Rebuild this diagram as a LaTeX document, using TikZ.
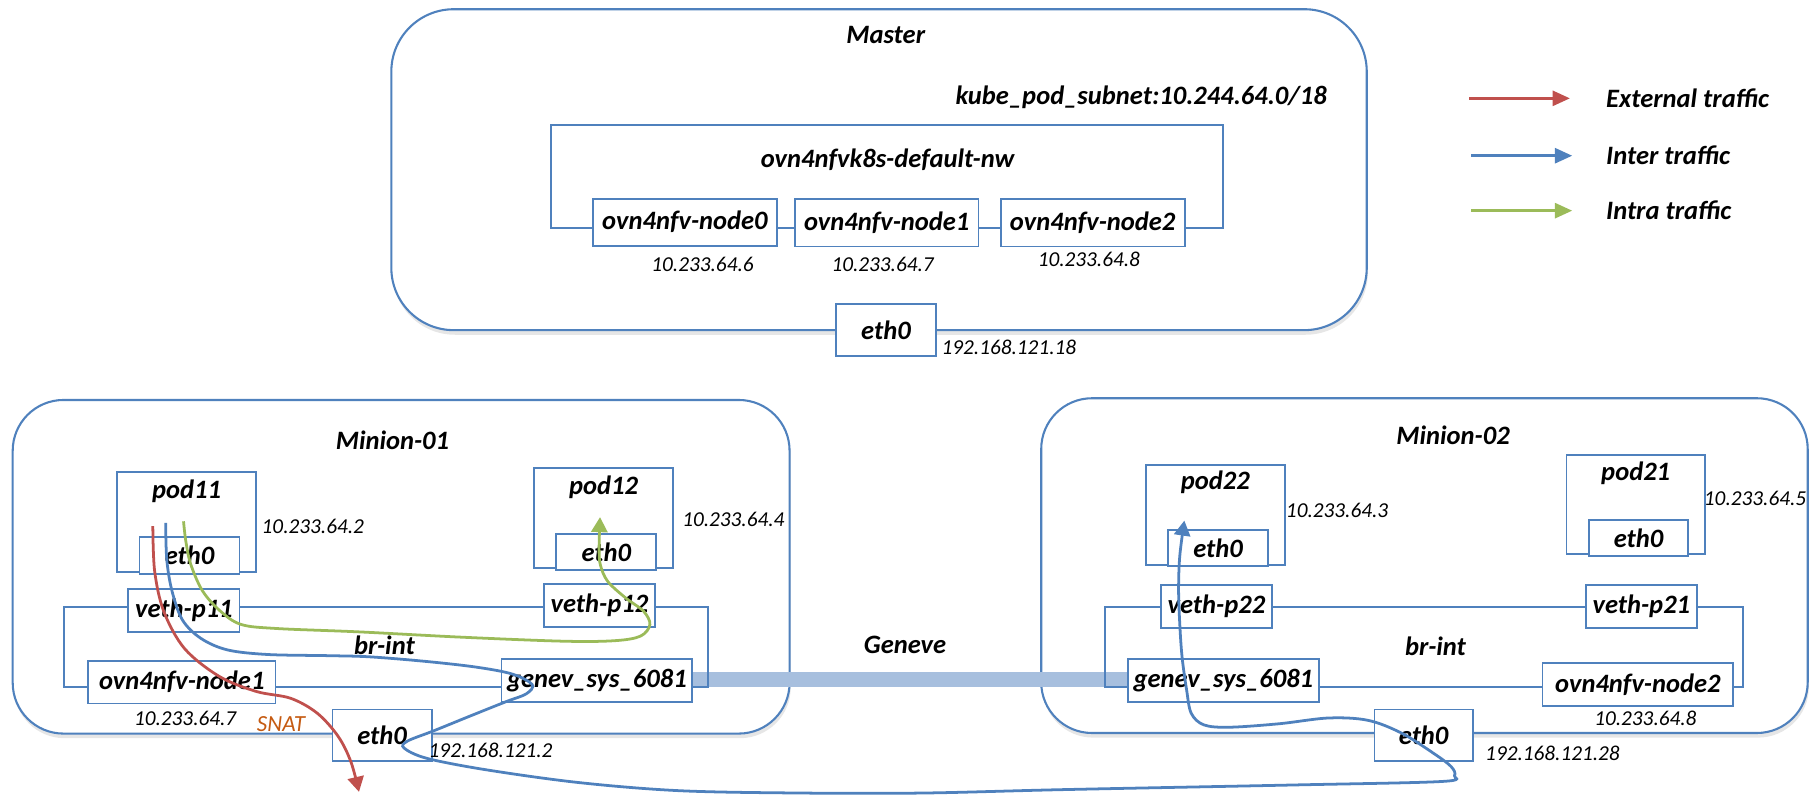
\documentclass[tikz,border=0pt]{standalone}
\usepackage{fontspec}
\setmainfont{Carlito}
\usetikzlibrary{arrows.meta,shadows}
\definecolor{boxblue}{HTML}{4F81BD}
\definecolor{extred}{HTML}{C0504D}
\definecolor{intragreen}{HTML}{9BBB59}
\definecolor{bandblue}{HTML}{A7BFDE}
\definecolor{snatbrown}{HTML}{C55A11}

\begin{document}
\begin{tikzpicture}[x=0.5pt, y=-0.5pt,
	host/.style={draw=boxblue, line width=0.9pt, fill=white, rounded corners=22pt, drop shadow={shadow xshift=0.5pt, shadow yshift=-2pt, opacity=0.2}},
	box/.style={draw=boxblue, line width=0.8pt, fill=white, inner sep=0pt, font=\bfseries\itshape},
	wire/.style={draw=boxblue, line width=0.8pt},
	lbl/.style={font=\bfseries\itshape, inner sep=0pt},
	ip/.style={font=\fontsize{9.2}{11}\selectfont\itshape, inner sep=0pt},
	flow/.style={line width=1.2pt, -{Triangle[length=6.5pt, width=7pt]}},
	legend/.style={line width=1.2pt, -{Triangle[length=7.5pt, width=6.5pt]}}]
	\fontsize{11.5}{14}\selectfont
	\useasboundingbox (0,0) rectangle (1568,688);
	
	% containers
	\node[host, rounded corners=27pt, minimum width=422.5pt, minimum height=139pt] (master) at (761.5,147) {};
	\node[host, minimum width=336.5pt, minimum height=144.5pt] (minion1) at (347.5,491) {};
	\node[host, minimum width=332pt, minimum height=145pt] (minion2) at (1234,490) {};
	\node[lbl] (mastername) at (767.3,30.6) {Master};
	\node[lbl] (m1name) at (340,381) {Minion-01};
	\node[lbl] (m2name) at (1258.8,376.8) {Minion-02};
	
	% master
	\node[lbl] (subnet) at (988.6,84.6) {kube\_pod\_subnet:10.244.64.0/18};
	\node[lbl] (nwname) at (768.9,138.6) {ovn4nfvk8s-default-nw};
	\node[box, minimum width=80pt, minimum height=20.4pt] (mnode0) at (593.4,192.5) {ovn4nfv-node0};
	\node[box, minimum width=79.4pt, minimum height=20.4pt] (mnode1) at (768.2,193.1) {ovn4nfv-node1};
	\node[box, minimum width=79.6pt, minimum height=20.4pt] (mnode2) at (946.6,193.1) {ovn4nfv-node2};
	\draw[wire] (mnode0.west |- 0,197.8) -- (477,197.8) |- (1059.5,108.5) -- (1059.5,197.8) -- (mnode2.east |- 0,197.8);
	\draw[wire] (mnode0.east |- 0,197.8) -- (mnode1.west |- 0,197.8);
	\draw[wire] (mnode1.east |- 0,197.8) -- (mnode2.west |- 0,197.8);
	\node[ip] (mip0) at (608.6,229) {10.233.64.6};
	\node[ip] (mip1) at (764.6,229) {10.233.64.7};
	\node[ip] (mip2) at (943.3,225) {10.233.64.8};
	\node[box, minimum width=43pt, minimum height=22.5pt] (meth0) at (767.5,286) {eth0};
	\node[ip] (methip) at (874,300.5) {192.168.121.18};
	
	% geneve tunnel
	\node[lbl] (geneve) at (784,558.8) {Geneve};
	\draw[bandblue, line width=6.5pt] (599.7,588.5) -- (977.2,588.5);
	
	% minion-01
	\node[box, minimum width=60.4pt, minimum height=43.3pt] (pod11) at (161.7,452) {};
	\node[lbl] (pod11name) at ([yshift=-8.7pt]pod11.north) {pod11};
	\node[box, minimum width=43.3pt, minimum height=16pt] (pod11eth) at (164.2,481) {eth0};
	\node[ip] (pod11ip) at (271,455.7) {10.233.64.2};
	\node[box, minimum width=60pt, minimum height=43.3pt] (pod12) at (522.9,449) {};
	\node[lbl] (pod12name) at ([yshift=-8.6pt]pod12.north) {pod12};
	\node[box, minimum width=43.3pt, minimum height=15.9pt] (pod12eth) at (525.3,478.2) {eth0};
	\node[ip] (pod12ip) at (635.3,450.2) {10.233.64.4};
	\node[box, minimum width=48.2pt, minimum height=18.3pt] (vp11) at (159.3,528.9) {veth-p11};
	\node[box, minimum width=48.4pt, minimum height=18.5pt] (vp12) at (519.3,524.4) {veth-p12};
	\node[box, minimum width=81.1pt, minimum height=18.5pt] (onode1) at (157.5,590.9) {ovn4nfv-node1};
	\node[box, minimum width=82.6pt, minimum height=18.4pt] (gen1) at (517.1,589.6) {genev\_sys\_6081};
	\draw[wire] (vp11.west |- 0,525.6) -- (55.5,525.6) -- (55.5,594.9) -- (onode1.west |- 0,594.9);
	\draw[wire] (vp11.east |- 0,525.6) -- (vp12.west |- 0,525.6);
	\draw[wire] (vp12.east |- 0,525.6) -- (613,525.6) -- (613,594.9) -- (gen1.east |- 0,594.9);
	\draw[wire] (onode1.east |- 0,594.9) -- (gen1.west |- 0,594.9);
	\node[lbl] (brint1) at (333,559) {br-int};
	\node[ip] (onode1ip) at (160.4,622.3) {10.233.64.7};
	\node[font=\fontsize{10}{12}\selectfont\itshape, text=snatbrown, inner sep=0pt] (snat) at (243.4,627) {SNAT};
	\node[box, minimum width=43pt, minimum height=22.2pt] (eth1) at (331,636.8) {eth0};
	\node[ip] (eth1ip) at (425,649.7) {192.168.121.2};
	
	% minion-02
	\node[box, minimum width=60.2pt, minimum height=43.3pt] (pod22) at (1052.9,446.1) {};
	\node[lbl] (pod22name) at ([yshift=-8pt]pod22.north) {pod22};
	\node[box, minimum width=43.1pt, minimum height=15.6pt] (pod22eth) at (1055.2,474.7) {eth0};
	\node[ip] (pod22ip) at (1158.3,442.4) {10.233.64.3};
	\node[box, minimum width=60pt, minimum height=43pt] (pod21) at (1417,437.2) {};
	\node[lbl] (pod21name) at ([yshift=-8.2pt]pod21.north) {pod21};
	\node[box, minimum width=43.1pt, minimum height=15.7pt] (pod21eth) at (1419.5,466.2) {eth0};
	\node[ip] (pod21ip) at (1520.4,431.7) {10.233.64.5};
	\node[box, minimum width=48pt, minimum height=18.5pt] (vp22) at (1053.8,525.3) {veth-p22};
	\node[box, minimum width=48pt, minimum height=18.5pt] (vp21) at (1421.9,525.3) {veth-p21};
	\node[box, minimum width=82.6pt, minimum height=18.6pt] (gen2) at (1059.8,589.8) {genev\_sys\_6081};
	\node[box, minimum width=82.6pt, minimum height=18.3pt] (onode2) at (1418.9,593) {ovn4nfv-node2};
	\draw[wire] (gen2.west |- 0,594.9) -- (956.9,594.9) -- (956.9,525.6) -- (vp22.west |- 0,525.6);
	\draw[wire] (vp22.east |- 0,525.6) -- (vp21.west |- 0,525.6);
	\draw[wire] (vp21.east |- 0,525.6) -- (1510,525.6) -- (1510,594.9) -- (onode2.east |- 0,594.9);
	\draw[wire] (gen2.east |- 0,594.9) -- (onode2.west |- 0,594.9);
	\node[lbl] (brint2) at (1243.6,560.2) {br-int};
	\node[ip] (onode2ip) at (1425.4,622.3) {10.233.64.8};
	\node[box, minimum width=42.6pt, minimum height=22.2pt] (eth2) at (1233.3,636.8) {eth0};
	\node[ip] (eth2ip) at (1344.9,653) {192.168.121.28};
	
	% traffic
	\coordinate (extstart) at (132.4,455.7);
	\coordinate (extend) at (311,686);
	\draw[flow, extred] plot[smooth, tension=0.55] coordinates {(extstart) (134,495) (142,530) (160,562) (190,586) (222,599) (252,605) (275,618) (293,638) (304,660) (extend)};
	\coordinate (interstart) at (143.5,453);
	\coordinate (interend) at (1026,451);
	\draw[flow, boxblue] plot[smooth, tension=0.55] coordinates {(interstart) (144.5,485) (149,512) (158,537) (174,553) (197,563) (232,567) (284,568) (320,569) (369,573) (413,578) (444,584) (461,593) (456,601) (438,608) (408,620) (376,633) (353,642) (350,648) (370,657) (422,667) (502,678) (589,685) (693,687) (800,687) (923,684) (1122,680) (1249,677) (1260,672) (1257,664) (1241,652) (1214,635) (1185,624) (1151,622) (1108,627) (1065,630) (1043,628) (1032,618) (1028,598) (1024,569) (1022,540) (1021,511) (1022,482) (interend)};
	\coordinate (intrastart) at (159,451.6);
	\coordinate (intraend) at (519.8,448);
	\draw[flow, intragreen] plot[smooth, tension=0.55] coordinates {(intrastart) (161,469) (165.3,489) (175.5,512) (191,529.5) (209,541) (240,544.5) (311,547.4) (400,552) (489,555.5) (533,555) (555,551) (563,541) (557.5,529.5) (542,518) (526.4,503.6) (520,489) (519,474.6) (intraend)};
	
	% legend
	\node[lbl, anchor=west] (extlbl) at (1391,85.2) {External traffic};
	\node[lbl, anchor=west] (interlbl) at (1391,134.9) {Inter traffic};
	\node[lbl, anchor=west] (intralbl) at (1391,182.5) {Intra traffic};
	\draw[legend, extred] ([xshift=-59pt]extlbl.west) -- ([xshift=-15.5pt]extlbl.west);
	\draw[legend, boxblue] ([xshift=-58.3pt]interlbl.west) -- ([xshift=-14.5pt]interlbl.west);
	\draw[legend, intragreen] ([xshift=-58.3pt]intralbl.west) -- ([xshift=-14.5pt]intralbl.west);
\end{tikzpicture}
\end{document}
